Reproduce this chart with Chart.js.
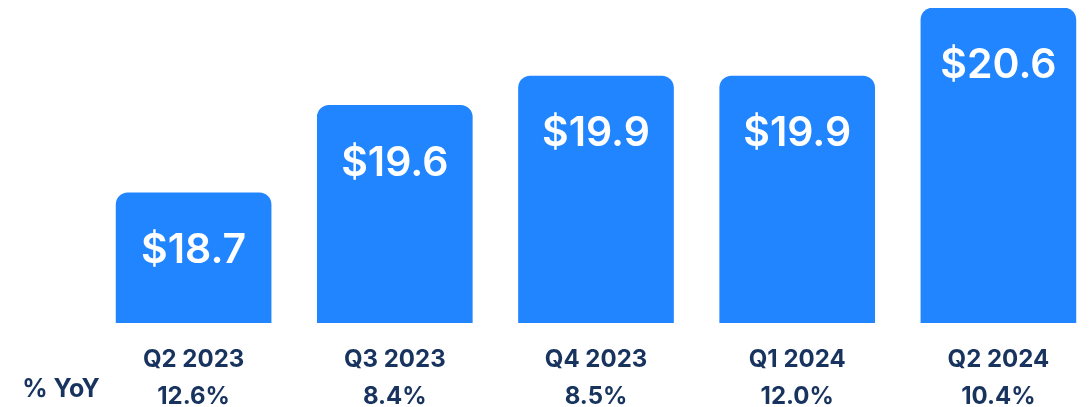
<!DOCTYPE html>
<html>
<head>
<meta charset="utf-8">
<script src="https://cdn.jsdelivr.net/npm/chart.js@4"></script>
<style>
html,body{margin:0;padding:0;background:#fff;overflow:hidden;}
#wrap{position:relative;width:1099px;height:407px;}
</style>
</head>
<body>
<div id="wrap"><canvas id="c"></canvas></div>
<script>
const quarters = ["Q2 2023", "Q3 2023", "Q4 2023", "Q1 2024", "Q2 2024"];
const yoyLabels = ["12.6%", "8.4%", "8.5%", "12.0%", "10.4%"];
const revenue = [18.7, 19.6, 19.9, 19.9, 20.6];
const valueLabels = ["$18.7", "$19.6", "$19.9", "$19.9", "$20.6"];
const rowLabel = "% YoY";

const BLUE = "#2185ff";
const NAVY = "#17335e";
const FONT = "Inter, 'Open Sans', sans-serif";

const labelPlugin = {
  id: "labels",
  afterDatasetsDraw(chart) {
    const ctx = chart.ctx;
    const meta = chart.getDatasetMeta(0);
    ctx.save();
    ctx.fillStyle = "#ffffff";
    ctx.font = "600 41px " + FONT;
    ctx.textAlign = "center";
    ctx.textBaseline = "middle";
    meta.data.forEach((bar, i) => {
      ctx.fillText(valueLabels[i], bar.x, bar.y + 58);
    });
    ctx.fillStyle = NAVY;
    ctx.font = "700 25px " + FONT;
    ctx.fillText(rowLabel, 61, 389);
    ctx.restore();
  }
};

new Chart(document.getElementById("c"), {
  type: "bar",
  data: {
    labels: quarters.map((q, i) => [q, yoyLabels[i]]),
    datasets: [{
      data: revenue,
      backgroundColor: BLUE,
      borderRadius: {topLeft: 12, topRight: 12, bottomLeft: 0, bottomRight: 0},
      borderSkipped: "bottom",
      barThickness: 155
    }]
  },
  options: {
    responsive: true,
    maintainAspectRatio: false,
    animation: false,
    layout: {padding: {left: 93, right: 0, top: 8, bottom: 0}},
    plugins: {legend: {display: false}, tooltip: {enabled: false}},
    scales: {
      y: {display: false, min: 17.36, max: 20.6},
      x: {
        grid: {display: false},
        border: {display: false},
        ticks: {
          color: NAVY,
          padding: 10.5,
          font: {family: FONT, size: 24, weight: "700", lineHeight: 37/24},
          maxRotation: 0,
          autoSkip: false
        },
        afterFit(scale) { scale.height = 84; }
      }
    }
  },
  plugins: [labelPlugin]
});
</script>
</body>
</html>
